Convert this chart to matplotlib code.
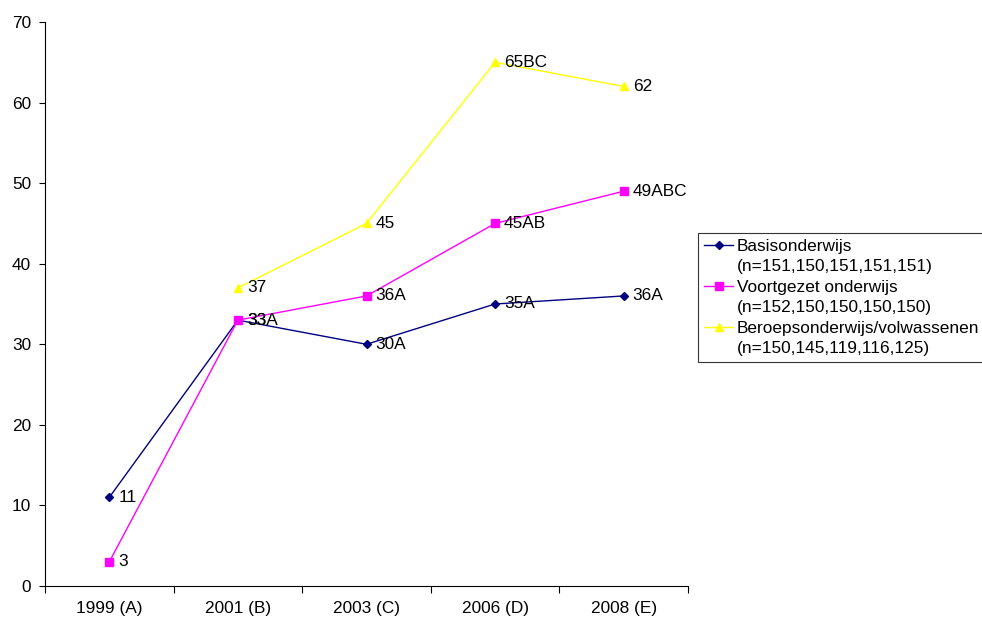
import matplotlib
matplotlib.use("Agg")
import matplotlib.pyplot as plt
from matplotlib.lines import Line2D
import numpy as np

plt.rcParams['font.family'] = ['Liberation Sans', 'DejaVu Sans']

categories = ["1999 (A)", "2001 (B)", "2003 (C)", "2006 (D)", "2008 (E)"]

basis_vals = [11, 33, 30, 35, 36]
basis_labels = ["11", "33", "30A", "35A", "36A"]

voortgezet_vals = [3, 33, 36, 45, 49]
voortgezet_labels = ["3", "33A", "36A", "45AB", "49ABC"]

beroeps_vals = [np.nan, 37, 45, 65, 62]
beroeps_labels = ["", "37", "45", "65BC", "62"]

series_names = ["Basisonderwijs", "Voortgezet onderwijs", "Beroepsonderwijs/volwassenen"]
series_n = ["(n=151,150,151,151,151)", "(n=152,150,150,150,150)", "(n=150,145,119,116,125)"]

colors = ["#000080", "#FF00FF", "#FFFF00"]
markers = ["D", "s", "^"]
msizes = [4.5, 5.5, 6]

FS = 12.4

fig = plt.figure(figsize=(9.82, 6.19), dpi=100)
ax = fig.add_axes([45/982, 1-586/619, (688-45)/982, (586-22)/619])

x = np.arange(len(categories))
all_vals = [basis_vals, voortgezet_vals, beroeps_vals]
all_labels = [basis_labels, voortgezet_labels, beroeps_labels]

for vals, labs, c, m, ms in zip(all_vals, all_labels, colors, markers, msizes):
    ax.plot(x, vals, color=c, marker=m, markersize=ms, markeredgecolor=c,
            markerfacecolor=c, linewidth=1.0)
    for xi, v, lab in zip(x, vals, labs):
        if lab and not np.isnan(v):
            ax.annotate(lab, (xi, v), xytext=(9, 0), textcoords='offset pixels',
                        ha='left', va='center', fontsize=FS, color='black')

ax.set_xlim(-0.5, len(categories) - 0.5)
ax.set_ylim(0, 70)
ax.set_yticks(np.arange(0, 71, 10))
ax.set_xticks(np.arange(-0.5, len(categories), 1.0))
ax.set_xticklabels([])
ax.set_xticks(x, minor=True)
ax.set_xticklabels(categories, minor=True)
ax.tick_params(axis='x', which='major', direction='out', length=5, width=0.8)
ax.tick_params(axis='x', which='minor', length=0, pad=11, labelsize=FS)
ax.tick_params(axis='y', direction='out', length=4, width=0.8, pad=6, labelsize=FS)

for s in ['top', 'right']:
    ax.spines[s].set_visible(False)
for s in ['left', 'bottom']:
    ax.spines[s].set_linewidth(0.8)
    ax.spines[s].set_color('black')

handles = []
labels = []
for name, n, c, m, ms in zip(series_names, series_n, colors, markers, msizes):
    handles.append(Line2D([0], [0], color=c, marker=m, markersize=ms,
                          markeredgecolor=c, markerfacecolor=c, linewidth=1.0))
    labels.append(name)
    handles.append(Line2D([0], [0], color='none', linewidth=0))
    labels.append(n)

leg = fig.legend(handles, labels, loc='upper left',
                 bbox_to_anchor=(698/982, 1-233/619), bbox_transform=fig.transFigure,
                 borderaxespad=0, borderpad=0.35, handlelength=1.7, handletextpad=0.2,
                 labelspacing=0.31, fontsize=FS, frameon=True, fancybox=False,
                 shadow=False)
leg.get_frame().set_edgecolor('black')
leg.get_frame().set_linewidth(0.8)

fig.savefig("out.png", dpi=100)
